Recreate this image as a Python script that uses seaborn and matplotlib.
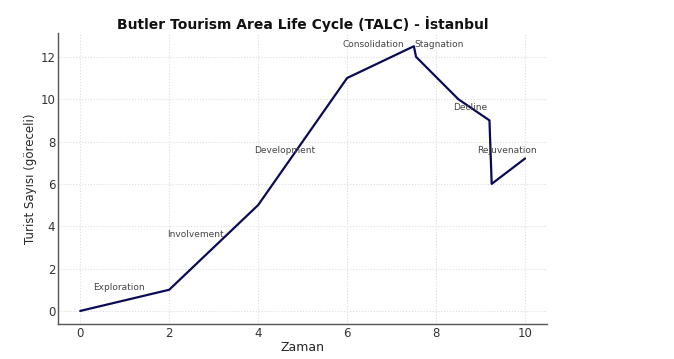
import matplotlib
matplotlib.use("Agg")
import matplotlib.pyplot as plt
import seaborn as sns
import pandas as pd

# TALC curve points
zaman = [0, 2, 4, 6, 7.5, 7.55, 8.5, 9.2, 9.25, 10]
turist = [0, 1, 5, 11, 12.5, 12, 10, 9, 6, 7.2]

# phase labels and where they sit
phase_names = ['Exploration', 'Involvement', 'Development', 'Consolidation',
               'Stagnation', 'Decline', 'Rejuvenation']
phase_x = [0.3, 1.95, 3.9, 5.9, 7.52, 8.38, 8.93]
phase_y = [1.1, 3.6, 7.6, 12.6, 12.6, 9.6, 7.6]

sns.set_style("white")
plt.rcParams['font.family'] = ['DejaVu Sans']

df = pd.DataFrame({'Zaman': zaman, 'Turist': turist})

fig, ax = plt.subplots(figsize=(6.74, 3.59), dpi=100)
sns.lineplot(data=df, x='Zaman', y='Turist', sort=False, color='#0b0b55',
             linewidth=1.6, ax=ax)

for name, x, y in zip(phase_names, phase_x, phase_y):
    ax.text(x, y, name, fontsize=6.5, color='#444444', ha='left', va='center')

ax.set_title('Butler Tourism Area Life Cycle (TALC) - İstanbul',
             fontsize=10, fontweight='bold', color='#111111', pad=3)
ax.set_xlabel('Zaman', fontsize=9, labelpad=1)
ax.set_ylabel('Turist Sayısı (göreceli)', fontsize=8.5, labelpad=2)
ax.set_xticks([0, 2, 4, 6, 8, 10])
ax.set_yticks([0, 2, 4, 6, 8, 10, 12])
ax.tick_params(axis='both', labelsize=8.5, length=2, direction='in', pad=2,
               color='#555555', labelcolor='#333333')
ax.grid(True, linestyle=':', color='#dddddd', linewidth=0.8)
sns.despine(ax=ax)
for s in ['left', 'bottom']:
    ax.spines[s].set_color('#555555')
    ax.spines[s].set_linewidth(1.0)

plt.subplots_adjust(left=0.086, right=0.812, bottom=0.097, top=0.908)
plt.savefig('out.png', dpi=100)
